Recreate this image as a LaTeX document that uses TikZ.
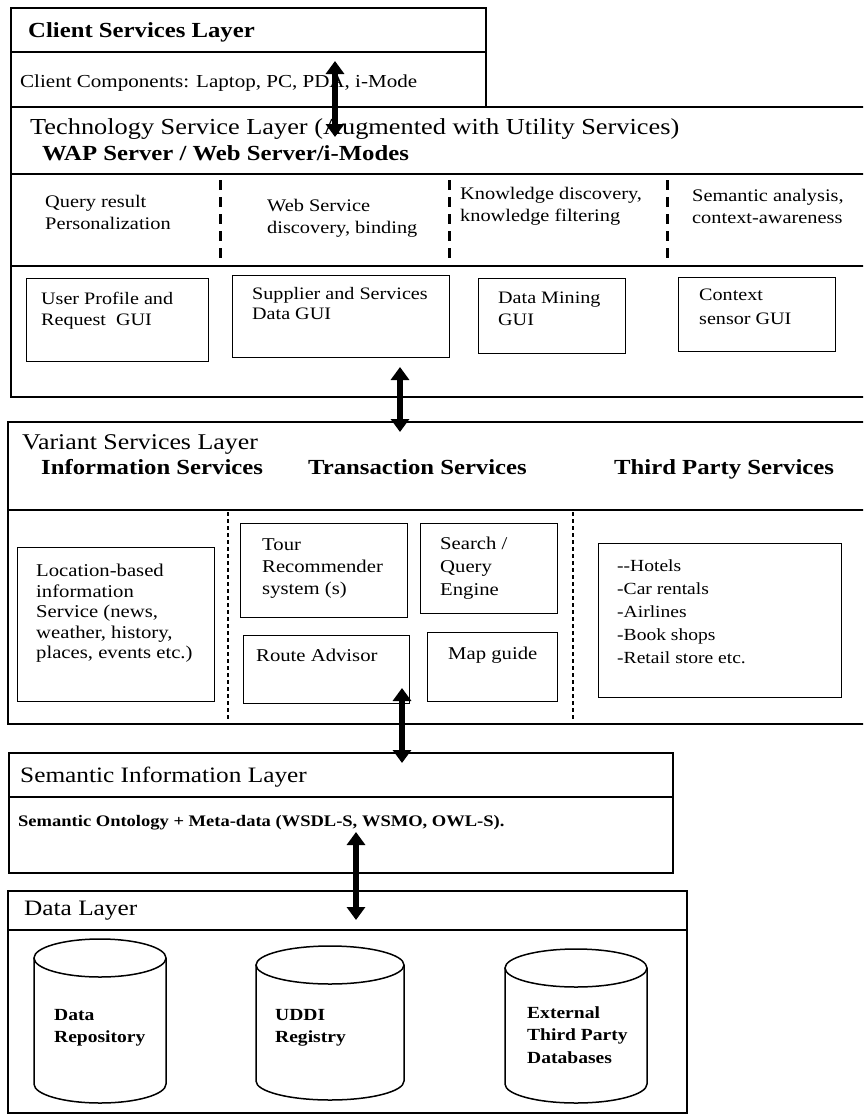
\documentclass[tikz,border=0pt]{standalone}
\usepackage{fontspec}
\setmainfont[FakeStretch=1.15]{Liberation Serif}
\usetikzlibrary{arrows.meta}

\newcommand{\fz}[2]{\fontsize{#1pt}{#2pt}\selectfont}
% cylinder: centre x, top y, bottom y, x radius
\newcommand{\dbcyl}[4]{%
  \draw[cyl] (#1-#4,#2+19) -- (#1-#4,#3-19)
    arc[start angle=180,end angle=360,x radius=#4pt,y radius=19pt]
    -- (#1+#4,#2+19);
  \draw[cyl] (#1,#2+19) ellipse[x radius=#4pt,y radius=19pt];}

\begin{document}
\begin{tikzpicture}[x=1pt,y=-1pt,
    layer/.style={draw,line width=1.6pt,anchor=north west,inner sep=0pt},
    gbox/.style={draw,line width=1.4pt,anchor=north west,inner sep=0pt},
    sep/.style={line width=2.2pt},
    fdash/.style={line width=3pt,dash pattern=on 10pt off 7pt},
    vdot/.style={line width=1.5pt,dash pattern=on 4pt off 3pt},
    cyl/.style={line width=1.5pt},
    head/.style={anchor=base west,inner sep=0pt,font=\fz{22}{26}},
    headb/.style={anchor=base west,inner sep=0pt,font=\fz{21.5}{26}\bfseries},
    txt/.style={anchor=north west,inner sep=0pt,align=left,font=\fz{17.7}{22}},
    stxt/.style={anchor=north west,inner sep=0pt,align=left,font=\fz{18}{20.5}},
    btxt/.style={anchor=north west,inner sep=0pt,align=left,font=\fz{17}{22.5}\bfseries},
    biarrow/.style={line width=6pt,{Triangle[length=13pt,width=18pt]}-{Triangle[length=13pt,width=18pt]}}]

  \useasboundingbox (0,0) rectangle (863,1116);
  \clip (0,0) rectangle (863,1116);

  % client services layer
  \node[layer,minimum width=475pt,minimum height=99pt] (client) at (10,7) {};
  \draw[sep] (10,52) -- (485,52);
  \node[headb] (clienttitle) at (28,38) {Client Services Layer};
  \node[head,font=\fz{18.3}{22}] (clientcomp) at (20,88) {Client Components: Laptop, PC, PDA, i-Mode};

  % technology service layer
  \node[layer,minimum width=860pt,minimum height=290pt] (tech) at (10,106) {};
  \draw[sep] (10,174) -- (870,174);
  \draw[sep] (10,266) -- (870,266);
  \node[head,font=\fz{22.9}{26}] (techtitle) at (30,134) {Technology Service Layer (Augmented with Utility Services)};
  \node[headb] (wap) at (42,160) {WAP Server / Web Server/i-Modes};

  \node[txt] (f1) at (45,195) {Query result\\Personalization};
  \node[txt] (f2) at (267,199) {Web Service\\discovery, binding};
  \node[txt] (f3) at (460,187) {Knowledge discovery,\\knowledge filtering};
  \node[txt] (f4) at (692,189) {Semantic analysis,\\context-awareness};
  \draw[fdash] (220,180) -- (220,260);
  \draw[fdash] (449,180) -- (449,260);
  \draw[fdash] (667,180) -- (667,260);

  \node[gbox,minimum width=182pt,minimum height=83pt] (userprof) at (26,278) {};
  \node[gbox,minimum width=217pt,minimum height=82pt] (supplier) at (232,275) {};
  \node[gbox,minimum width=147pt,minimum height=75pt] (mining) at (478,278) {};
  \node[gbox,minimum width=157pt,minimum height=74pt] (context) at (678,277) {};
  \node[txt,font=\fz{17.5}{21}] (t1) at (41,292) {User Profile and\\Request~~GUI};
  \node[txt,font=\fz{17.5}{20}] (t2) at (252,287) {Supplier and Services\\Data GUI};
  \node[txt,font=\fz{17.5}{22}] (t3) at (498,292) {Data Mining\\GUI};
  \node[txt,font=\fz{17.5}{24}] (t4) at (699,289) {Context\\sensor GUI};

  % variant services layer
  \node[layer,minimum width=863pt,minimum height=302pt] (variant) at (7,421) {};
  \draw[sep] (7,510) -- (870,510);
  \node[head,font=\fz{22.5}{26}] (varianttitle) at (22,449) {Variant Services Layer};
  \node[headb] (infos) at (41,474) {Information Services};
  \node[headb] (trans) at (308,474) {Transaction Services};
  \node[headb] (third) at (614,474) {Third Party Services};
  \draw[vdot] (228,512) -- (228,721);
  \draw[vdot] (573,512) -- (573,721);

  \node[gbox,minimum width=197pt,minimum height=154pt] (location) at (17,547) {};
  \node[gbox,minimum width=167pt,minimum height=94pt] (tour) at (240,523) {};
  \node[gbox,minimum width=137pt,minimum height=90pt] (search) at (420,523) {};
  \node[gbox,minimum width=166pt,minimum height=68pt] (route) at (243,635) {};
  \node[gbox,minimum width=130pt,minimum height=69pt] (map) at (427,632) {};
  \node[gbox,minimum width=243pt,minimum height=154pt] (shops) at (598,543) {};
  \node[stxt] (t5) at (36,564) {Location-based\\information\\Service (news,\\weather, history,\\places, events etc.)};
  \node[stxt,font=\fz{18}{22}] (t6) at (262,539) {Tour\\Recommender\\system (s)};
  \node[stxt,font=\fz{18}{23}] (t7) at (440,537) {Search /\\Query\\Engine};
  \node[stxt] (t8) at (256,649) {Route Advisor};
  \node[stxt] (t9) at (448,647) {Map guide};
  \node[stxt,font=\fz{17}{23}] (t10) at (617,559) {{-}{-}Hotels\\-Car rentals\\-Airlines\\-Book shops\\-Retail store etc.};

  % semantic information layer
  \node[layer,minimum width=664pt,minimum height=120pt] (semantic) at (8,752) {};
  \draw[sep] (8,797) -- (672,797);
  \node[head] (semtitle) at (20,782) {Semantic Information Layer};
  \node[btxt,anchor=base west,font=\fz{16.1}{20}\bfseries] (onto) at (18,826) {Semantic Ontology + Meta-data (WSDL-S, WSMO, OWL-S).};

  % data layer
  \node[layer,minimum width=679pt,minimum height=222pt] (data) at (7,890) {};
  \draw[sep] (7,930) -- (686,930);
  \node[head] (datatitle) at (24,915) {Data Layer};
  \dbcyl{100}{939}{1103}{66}
  \dbcyl{330}{946}{1100}{74}
  \dbcyl{576}{949}{1103}{71}
  \node[btxt] (db1) at (54,1009) {Data\\Repository};
  \node[btxt] (db2) at (275,1009) {UDDI\\Registry};
  \node[btxt] (db3) at (527,1006) {External\\Third Party\\Databases};

  % arrows between the layers
  \coordinate (a1) at (335,61);
  \coordinate (b1) at (335,137);
  \coordinate (a2) at (400,367);
  \coordinate (b2) at (400,432);
  \coordinate (a3) at (402,688);
  \coordinate (b3) at (402,763);
  \coordinate (a4) at (356,832);
  \coordinate (b4) at (356,920);
  \draw[biarrow] (a1) -- (b1);
  \draw[biarrow] (a2) -- (b2);
  \draw[biarrow] (a3) -- (b3);
  \draw[biarrow] (a4) -- (b4);

\end{tikzpicture}
\end{document}
